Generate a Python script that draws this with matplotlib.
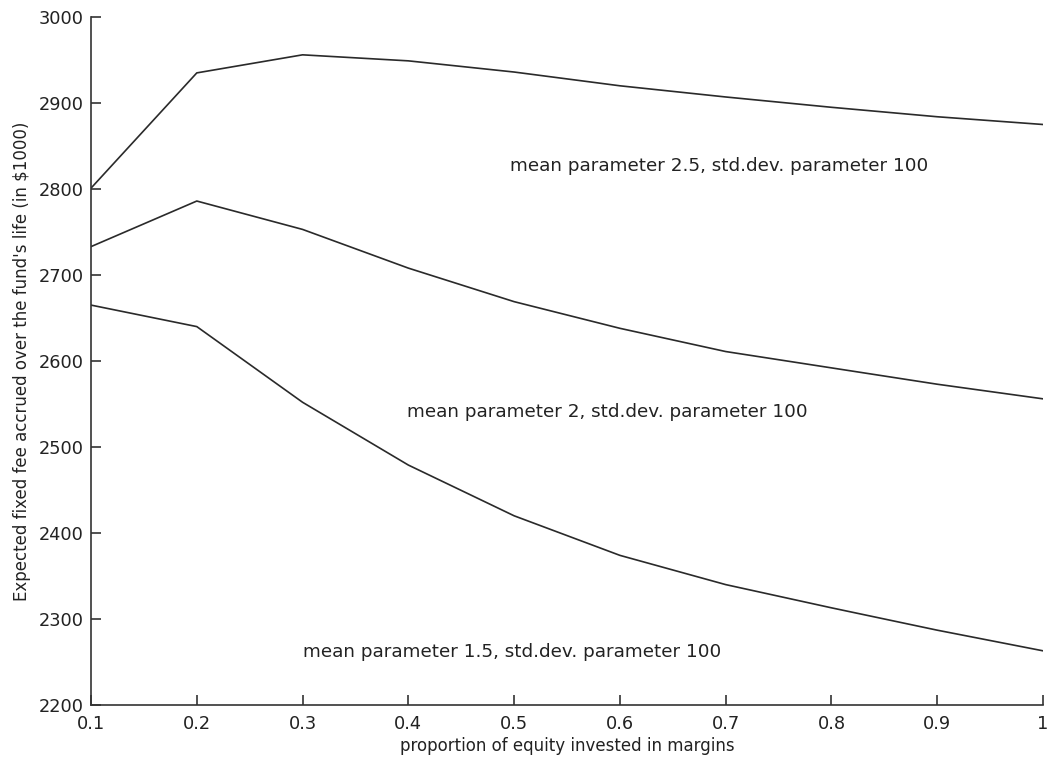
import matplotlib
matplotlib.use("Agg")
import matplotlib.pyplot as plt

plt.rcParams['font.family'] = ['DejaVu Sans']

x = [0.1, 0.2, 0.3, 0.4, 0.5, 0.6, 0.7, 0.8, 0.9, 1.0]
mean_2_5 = [2801, 2935, 2956, 2949, 2936, 2920, 2907, 2895, 2884, 2875]
mean_2_0 = [2733, 2786, 2753, 2708, 2669, 2638, 2611, 2592, 2573, 2556]
mean_1_5 = [2665, 2640, 2552, 2479, 2420, 2374, 2340, 2313, 2287, 2263]

labels = ["mean parameter 2.5, std.dev. parameter 100",
          "mean parameter 2, std.dev. parameter 100",
          "mean parameter 1.5, std.dev. parameter 100"]
label_pos = [(0.496, 2827), (0.399, 2541), (0.300, 2262)]

xticks = [0.1, 0.2, 0.3, 0.4, 0.5, 0.6, 0.7, 0.8, 0.9, 1.0]
xticklabels = ["0.1", "0.2", "0.3", "0.4", "0.5", "0.6", "0.7", "0.8", "0.9", "1"]
yticks = [2200, 2300, 2400, 2500, 2600, 2700, 2800, 2900, 3000]

fig = plt.figure(figsize=(10.51, 7.62), dpi=100)
ax = fig.add_axes([0.0866, 0.0748, 0.9058, 0.9029])

for s in (mean_2_5, mean_2_0, mean_1_5):
    ax.plot(x, s, color='#2a2a2a', linewidth=1.2)

for t, (tx, ty) in zip(labels, label_pos):
    ax.text(tx, ty, t, fontsize=13.2, color='#222222', va='center', ha='left')

ax.set_xlim(0.1, 1.0)
ax.set_ylim(2200, 3000)
ax.set_xticks(xticks)
ax.set_xticklabels(xticklabels)
ax.set_yticks(yticks)

for side in ('top', 'right'):
    ax.spines[side].set_visible(False)
for side in ('left', 'bottom'):
    ax.spines[side].set_color('#333333')
    ax.spines[side].set_linewidth(1.2)

ax.tick_params(direction='in', length=7, width=1.2, color='#333333',
               labelsize=12.8, labelcolor='#222222', pad=5)
ax.tick_params(axis='x', pad=7)

ax.set_xlabel("proportion of equity invested in margins", fontsize=12,
              color='#222222', labelpad=3)
ax.set_ylabel("Expected fixed fee accrued over the fund's life (in $1000)",
              fontsize=12, color='#222222', labelpad=6)

fig.savefig("out.png", dpi=100)
